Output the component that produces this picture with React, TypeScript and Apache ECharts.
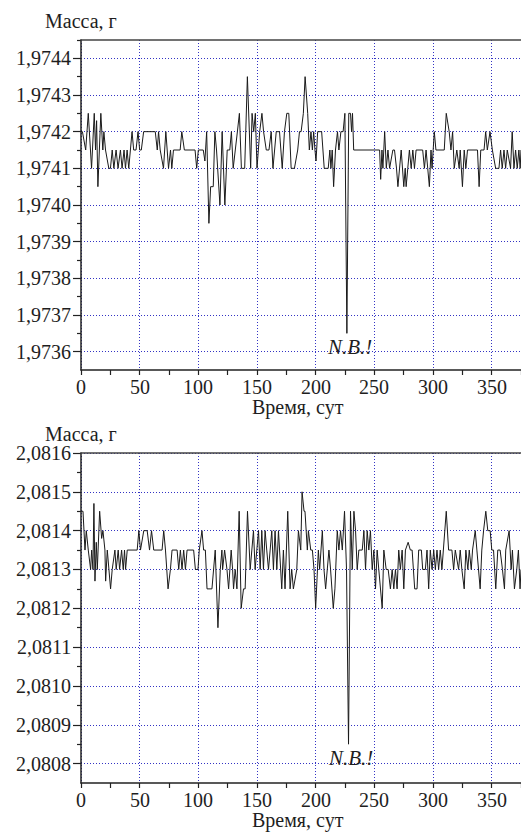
import React, { useEffect, useRef } from 'react';
import * as echarts from 'echarts';

const FONT = 'Liberation Serif';
const TEXT_COLOR = '#1e1e1e';
const GRID_COLOR = '#3333c4';

const xAxisTitle = 'Время, сут';
const yAxisTitle = 'Масса, г';
const noteText = 'N.B.!';

const xTickLabels = [0, 50, 100, 150, 200, 250, 300, 350];
const xMinorTicks = [25, 75, 125, 175, 225, 275, 325, 375];

const topYTickLabels = [1.9736, 1.9737, 1.9738, 1.9739, 1.974, 1.9741, 1.9742, 1.9743, 1.9744];
const topYMinorTicks = [1.97365, 1.97375, 1.97385, 1.97395, 1.97405, 1.97415, 1.97425, 1.97435, 1.97445];
const bottomYTickLabels = [2.0808, 2.0809, 2.081, 2.0811, 2.0812, 2.0813, 2.0814, 2.0815, 2.0816];
const bottomYMinorTicks = [2.08085, 2.08095, 2.08105, 2.08115, 2.08125, 2.08135, 2.08145, 2.08155];

// [day, mass in grams] — sample 1
const topSeries: [number, number][] = [
  [0, 1.9742], [1.2, 1.9742], [4, 1.97415], [6.2, 1.97425], [9, 1.9741], [11.3, 1.97425], [12.4, 1.97415],
  [13.3, 1.97423], [14.4, 1.97405], [16.9, 1.97425], [18.6, 1.97415], [19.5, 1.9742], [20.9, 1.97415],
  [23.7, 1.9741], [25.1, 1.9741], [26.6, 1.97415], [28, 1.9741], [29.9, 1.97415], [31.6, 1.9741],
  [33.6, 1.97415], [35, 1.9741], [36.7, 1.97415], [37.9, 1.9741], [39.3, 1.97415], [40.7, 1.9741],
  [42.1, 1.97415], [43.5, 1.9742], [44.9, 1.97415], [46.9, 1.97415], [48.6, 1.9742], [50, 1.97415],
  [51.4, 1.97415], [53.4, 1.9742], [63.3, 1.9742], [65, 1.97415], [66.1, 1.9742], [67.5, 1.97415],
  [70.3, 1.9741], [72.3, 1.9742], [74.6, 1.9741], [76.3, 1.97415], [77.4, 1.9741], [78.8, 1.97415],
  [84.5, 1.97415], [85.9, 1.9742], [88.1, 1.97415], [97.2, 1.97415], [98.6, 1.9741], [100, 1.97415],
  [104.2, 1.97415], [105.6, 1.97412], [107.1, 1.9742], [109, 1.97395], [110.5, 1.97405], [112.7, 1.97405],
  [114.1, 1.9742], [115.5, 1.97415], [118.4, 1.974], [120.3, 1.9742], [122.6, 1.974], [124.6, 1.97415],
  [126.8, 1.97415], [128.2, 1.9742], [129.7, 1.9741], [133.3, 1.9742], [135, 1.97425], [136.7, 1.9741],
  [139.5, 1.9741], [141.8, 1.97435], [144.6, 1.9741], [145.8, 1.97425], [147.2, 1.9742], [148.6, 1.97425],
  [150, 1.9741], [152.3, 1.9742], [154.2, 1.97425], [155.6, 1.9742], [157.9, 1.97415], [160.2, 1.97415],
  [162.1, 1.9742], [163.6, 1.9741], [166.4, 1.9742], [169.2, 1.9742], [171.5, 1.9741], [173.4, 1.9742],
  [175.4, 1.97425], [177.1, 1.97425], [179.1, 1.9741], [181.9, 1.9741], [184.7, 1.97415], [186.2, 1.9742],
  [187.6, 1.9742], [189.5, 1.97425], [191, 1.97435], [193.2, 1.97425], [194.6, 1.97415], [196, 1.9742],
  [197.2, 1.97415], [198.3, 1.9742], [199.4, 1.97415], [200.3, 1.97412], [201.7, 1.9742], [205.1, 1.9742],
  [207.3, 1.9741], [210.7, 1.9741], [212.1, 1.97415], [213, 1.9741], [214.1, 1.97415], [215.3, 1.97405],
  [216.9, 1.97415], [218.6, 1.9742], [219.8, 1.97415], [221.5, 1.9742], [223.4, 1.9742], [224.9, 1.97425],
  [226.6, 1.97365], [228.2, 1.97425], [229.7, 1.97425], [230.6, 1.9742], [231.4, 1.97425], [232.4, 1.97415],
  [254.5, 1.97415], [255.4, 1.97407], [256.5, 1.97415], [257.3, 1.9741], [258.8, 1.9742], [260.2, 1.9741],
  [261.6, 1.97415], [263, 1.9741], [265.8, 1.97415], [267.2, 1.97415], [268.9, 1.9741], [270.1, 1.97405],
  [271.5, 1.9741], [272.9, 1.97415], [275.1, 1.97405], [276.3, 1.9741], [277.1, 1.97405], [278.5, 1.9741],
  [279.9, 1.97415], [281.4, 1.9741], [282.8, 1.97415], [284.2, 1.9741], [285.6, 1.97415], [291.2, 1.97415],
  [292.7, 1.9741], [294.1, 1.97415], [295.5, 1.9741], [296.9, 1.97405], [298.3, 1.97415], [299.2, 1.9741],
  [301.1, 1.9742], [302.5, 1.97415], [309.6, 1.97415], [311.3, 1.97425], [313.8, 1.9742], [315.3, 1.97415],
  [316.7, 1.9742], [318.1, 1.9741], [320.3, 1.97415], [322.3, 1.9741], [323.2, 1.97415], [325.1, 1.97405],
  [326.6, 1.97415], [328, 1.9741], [329.4, 1.97415], [337.9, 1.97415], [339.3, 1.97405], [340.7, 1.97415],
  [343.5, 1.97415], [344.9, 1.9742], [346.3, 1.97415], [348.6, 1.9742], [350.6, 1.97415], [353.4, 1.9741],
  [356.2, 1.9741], [357.6, 1.97415], [359, 1.9741], [360.5, 1.97415], [361.9, 1.9741], [363.3, 1.97415],
  [366.1, 1.9741], [367.5, 1.9742], [369, 1.9741], [370.4, 1.97415], [371.8, 1.9741], [373.2, 1.97415],
  [374.3, 1.9741], [375, 1.97415],
];

// [day, mass in grams] — sample 2
const bottomSeries: [number, number][] = [
  [0, 2.08145], [1.7, 2.08145], [3.4, 2.08135], [4.5, 2.0814], [6.2, 2.08135], [8.2, 2.0813], [9.1, 2.08135],
  [10.2, 2.0813], [11, 2.08147], [11.9, 2.08127], [13, 2.08137], [13.9, 2.0813], [15.9, 2.08145],
  [17.6, 2.08138], [18.7, 2.0814], [20.4, 2.08135], [21, 2.08127], [22.4, 2.08135], [25.2, 2.08125],
  [26.6, 2.0813], [28.9, 2.08135], [30, 2.0813], [31.7, 2.08135], [32.9, 2.0813], [34.6, 2.08135],
  [36, 2.0813], [37.1, 2.08135], [38, 2.0813], [39.4, 2.08135], [47.9, 2.08135], [49.3, 2.0814],
  [50.7, 2.08135], [53.5, 2.0814], [56.4, 2.0814], [58.4, 2.08135], [60.1, 2.0814], [62, 2.08135],
  [69.1, 2.08135], [70.5, 2.0814], [72, 2.08135], [74.2, 2.08125], [76.2, 2.0813], [77.6, 2.08135],
  [81.9, 2.08135], [83.3, 2.0813], [84.7, 2.08135], [86.1, 2.0813], [87.5, 2.08135], [89, 2.0813],
  [90.4, 2.08135], [96, 2.08135], [97.5, 2.0813], [99.7, 2.0813], [100.8, 2.08135], [103.1, 2.0814],
  [104.5, 2.08135], [106, 2.08135], [107.4, 2.08125], [111.6, 2.08125], [114.4, 2.08135], [116.7, 2.08115],
  [118.7, 2.0813], [120.1, 2.08135], [120.7, 2.0813], [122.4, 2.08135], [124.4, 2.0813], [125.8, 2.08125],
  [128, 2.08135], [129.2, 2.0813], [130, 2.08125], [131.4, 2.0813], [132.9, 2.08125], [134.8, 2.08145],
  [136.5, 2.0812], [138.5, 2.08125], [139.9, 2.08125], [141.9, 2.08145], [144.2, 2.0813], [145.6, 2.08135],
  [147, 2.0814], [148.4, 2.0813], [151.3, 2.0814], [152.7, 2.0813], [154.1, 2.0814], [155.5, 2.0813],
  [156.9, 2.0814], [158.3, 2.08135], [159.8, 2.0813], [161.2, 2.08135], [162.6, 2.0814], [164, 2.0813],
  [165.4, 2.0814], [166.9, 2.0813], [168.3, 2.0814], [171.1, 2.08125], [172.5, 2.08135], [173.9, 2.08125],
  [176.2, 2.08145], [178.2, 2.08125], [179.6, 2.0813], [181, 2.08125], [183.9, 2.0813], [185.3, 2.0814],
  [187.3, 2.08135], [188.4, 2.0815], [190.1, 2.08145], [190.9, 2.08145], [192.9, 2.08135], [193.8, 2.0814],
  [195.8, 2.08135], [197.2, 2.08135], [198.6, 2.0813], [200, 2.0812], [202.3, 2.08135], [203.4, 2.0813],
  [205.7, 2.0814], [207.1, 2.0813], [208.5, 2.08125], [211.3, 2.08135], [212.7, 2.0813], [215, 2.0812],
  [216.4, 2.08125], [218.4, 2.0814], [219.8, 2.08135], [221.2, 2.0814], [222.7, 2.08135], [224.6, 2.08145],
  [226.3, 2.0813], [228, 2.08085], [229.7, 2.08145], [231.2, 2.0813], [232.6, 2.08145], [234, 2.0814],
  [235.4, 2.0813], [236.8, 2.08135], [239.7, 2.08135], [241.1, 2.0814], [242.5, 2.0813], [243.9, 2.0814],
  [245.3, 2.08135], [246.7, 2.0814], [248.2, 2.0813], [249.6, 2.08135], [251, 2.08125], [252.4, 2.08135],
  [253.8, 2.0813], [256.7, 2.0812], [258.1, 2.08135], [260.1, 2.0813], [261.8, 2.0813], [263.7, 2.08125],
  [265.2, 2.0813], [266.6, 2.08125], [268, 2.0813], [269.4, 2.08125], [270.8, 2.08135], [272.2, 2.0813],
  [273.7, 2.08135], [275.1, 2.08125], [276.5, 2.08135], [278.8, 2.08137], [280.7, 2.08135], [282.2, 2.08135],
  [284.4, 2.08125], [286.4, 2.08125], [287.8, 2.08135], [290.1, 2.08135], [291.2, 2.0813], [293.5, 2.0813],
  [294.9, 2.08135], [296.3, 2.08125], [297.7, 2.08135], [299.2, 2.0813], [300.6, 2.08135], [302, 2.0813],
  [303.4, 2.08135], [304.8, 2.0813], [306.2, 2.08135], [307.6, 2.0813], [311.3, 2.08145], [313.3, 2.08135],
  [316.1, 2.08135], [317.6, 2.0813], [319, 2.08135], [321.8, 2.0813], [323.2, 2.08135], [324.6, 2.0813],
  [326.6, 2.08125], [328, 2.08135], [329.7, 2.0813], [330.9, 2.08135], [332.6, 2.0813], [333.7, 2.08135],
  [336, 2.0814], [337.4, 2.08135], [340.2, 2.08125], [341.6, 2.08135], [343.1, 2.0814], [345, 2.08145],
  [346.7, 2.0814], [348.7, 2.0814], [350.1, 2.08135], [351.6, 2.08135], [353.5, 2.08125], [355.2, 2.08135],
  [357.2, 2.08135], [359.2, 2.0813], [360.9, 2.08125], [362, 2.08135], [364.9, 2.0814], [366.6, 2.0813],
  [367.7, 2.08135], [369.4, 2.08125], [371.4, 2.0813], [372.8, 2.08135], [374.2, 2.08125], [375, 2.0813],
];

const X_MIN = 0;
const X_MAX = 375;
const TOP_Y = [1.97355, 1.97445];
const BOTTOM_Y = [2.08075, 2.0816];

function xAxesFor(gridIndex: number) {
  return [
    {
      type: 'value', gridIndex, position: 'bottom', min: X_MIN, max: X_MAX,
      axisLine: { show: true, onZero: false, lineStyle: { color: '#222', width: 1.5 } },
      axisTick: { show: true, customValues: xTickLabels, length: 5, lineStyle: { color: '#222', width: 1.2 } },
      axisLabel: { show: false, customValues: xTickLabels },
      splitLine: { show: true, lineStyle: { color: GRID_COLOR, type: [1, 2], width: 1 } },
    },
    {
      type: 'value', gridIndex, position: 'bottom', min: X_MIN, max: X_MAX,
      axisLine: { show: false },
      axisTick: { show: true, customValues: xMinorTicks, length: 5, lineStyle: { color: '#222', width: 1.2 } },
      axisLabel: { show: false },
      splitLine: { show: false },
    },
    {
      type: 'value', gridIndex, position: 'top', min: X_MIN, max: X_MAX, z: 5,
      axisLine: { show: true, onZero: false, lineStyle: { color: '#444', width: 1.5 } },
      axisTick: { show: false },
      axisLabel: { show: false },
      splitLine: { show: false },
    },
  ];
}

function yAxesFor(gridIndex: number, range: number[], labels: number[], minor: number[]) {
  return [
    {
      type: 'value', gridIndex, position: 'left', min: range[0], max: range[1], splitNumber: 9,
      axisLine: { show: true, onZero: false, lineStyle: { color: '#222', width: 1.5 } },
      axisTick: { show: true, customValues: labels, length: 8, lineStyle: { color: '#222', width: 1.2 } },
      axisLabel: { show: false, customValues: labels },
      splitLine: { show: true, lineStyle: { color: GRID_COLOR, type: [1, 2], width: 1 } },
    },
    {
      type: 'value', gridIndex, position: 'left', min: range[0], max: range[1],
      axisLine: { show: false },
      axisTick: { show: true, customValues: minor, length: 4, lineStyle: { color: '#222', width: 1.2 } },
      axisLabel: { show: false },
      splitLine: { show: false },
    },
  ];
}

let measureCtx: CanvasRenderingContext2D | null = null;
function textWidth(text: string, size: number, italic: boolean) {
  if (!measureCtx) measureCtx = document.createElement('canvas').getContext('2d');
  if (!measureCtx) return text.length * size * 0.5;
  measureCtx.font = `${italic ? 'italic ' : ''}${size}px "${FONT}"`;
  return measureCtx.measureText(text).width;
}

// Plain text element positioned by its top-left corner (left/top layout).
function textAt(left: number, top: number, text: string, size = 20, italic = false) {
  const style: any = { text, fontFamily: FONT, fontSize: size, fill: TEXT_COLOR };
  if (italic) style.fontStyle = 'italic';
  return { type: 'text', left: Math.round(left), top: Math.round(top), style };
}

const fmtMass = (v: number) => v.toFixed(4).replace('.', ',');

export default function App() {
  const ref = useRef<HTMLDivElement>(null);
  useEffect(() => {
    if (!ref.current) return;
    const chart = echarts.init(ref.current, null, { renderer: 'svg' });
    const option: any = {
      animation: false,
      backgroundColor: '#ffffff',
      grid: [
        { left: 81, top: 40, width: 440, height: 330 },
        { left: 81, top: 453, width: 440, height: 330 },
      ],
      xAxis: [...xAxesFor(0), ...xAxesFor(1)],
      yAxis: [
        ...yAxesFor(0, TOP_Y, topYTickLabels, topYMinorTicks),
        ...yAxesFor(1, BOTTOM_Y, bottomYTickLabels, bottomYMinorTicks),
      ],
      series: [
        {
          type: 'line', xAxisIndex: 0, yAxisIndex: 0, data: topSeries,
          symbol: 'none', showSymbol: false, z: 3,
          lineStyle: { color: '#1a1a1a', width: 1 },
        },
        {
          type: 'line', xAxisIndex: 3, yAxisIndex: 2, data: bottomSeries,
          symbol: 'none', showSymbol: false, z: 3,
          lineStyle: { color: '#1a1a1a', width: 1 },
        },
      ],
    };
    chart.setOption(option);

    // Tick labels and titles placed through the axes' own scales.
    const panels = [
      { xi: 0, yi: 0, range: TOP_Y, yLabels: topYTickLabels, series: topSeries },
      { xi: 3, yi: 2, range: BOTTOM_Y, yLabels: bottomYTickLabels, series: bottomSeries },
    ];
    const graphics: any[] = [];
    panels.forEach((p) => {
      const axisX = chart.convertToPixel({ xAxisIndex: p.xi }, X_MIN) as number;
      const rightX = chart.convertToPixel({ xAxisIndex: p.xi }, X_MAX) as number;
      const axisY = chart.convertToPixel({ yAxisIndex: p.yi }, p.range[0]) as number;
      const topY = chart.convertToPixel({ yAxisIndex: p.yi }, p.range[1]) as number;
      xTickLabels.forEach((v) => {
        const px = chart.convertToPixel({ xAxisIndex: p.xi }, v) as number;
        const s = String(v);
        graphics.push(textAt(px - textWidth(s, 20, false) / 2, axisY + 7, s));
      });
      p.yLabels.forEach((v) => {
        const py = chart.convertToPixel({ yAxisIndex: p.yi }, v) as number;
        const s = fmtMass(v);
        graphics.push(textAt(axisX - 10 - textWidth(s, 20, false), py - 10, s));
      });
      graphics.push(textAt(45, topY - 29, yAxisTitle));
      const cx = (axisX + rightX) / 2 - 3;
      graphics.push(textAt(cx - textWidth(xAxisTitle, 20, false) / 2, axisY + 27, xAxisTitle));
      // N.B.! note under the minimum of the series
      let minPt = p.series[0];
      p.series.forEach((d) => { if (d[1] < minPt[1]) minPt = d; });
      const mx = chart.convertToPixel({ xAxisIndex: p.xi }, minPt[0]) as number;
      const my = chart.convertToPixel({ yAxisIndex: p.yi }, minPt[1]) as number;
      graphics.push(textAt(mx + 3 - textWidth(noteText, 21, true) / 2, my + 3, noteText, 21, true));
    });
    chart.setOption({ graphic: graphics });
    return () => chart.dispose();
  }, []);
  return (
    <div
      ref={ref}
      style={{ position: 'absolute', left: 0, top: 0, width: 521, height: 832, background: '#fff' }}
    />
  );
}
